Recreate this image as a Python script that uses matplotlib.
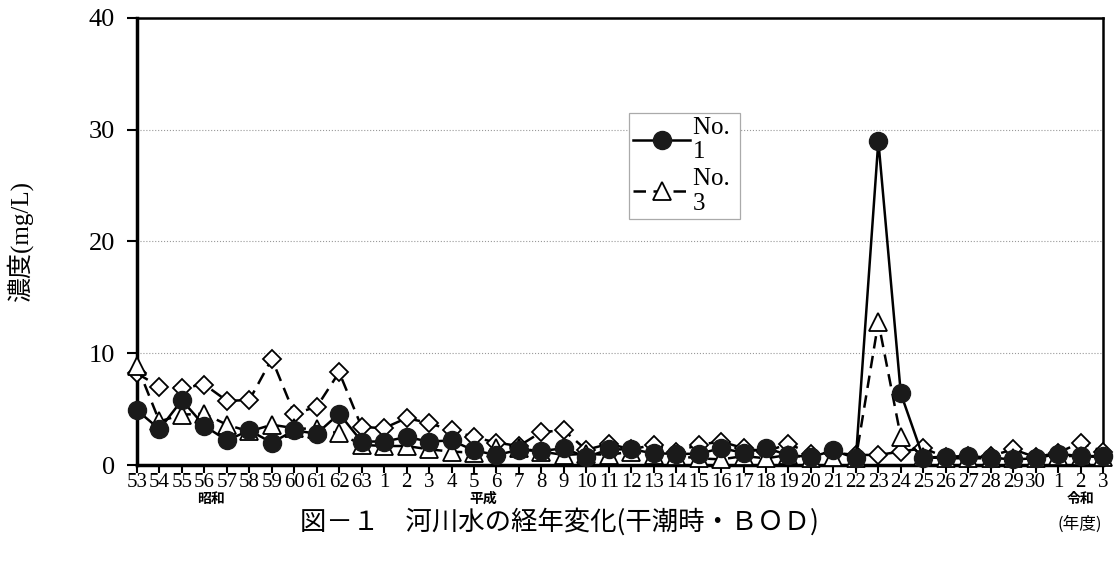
import numpy as np
import matplotlib
matplotlib.use("Agg")
import matplotlib.pyplot as plt
from matplotlib.lines import Line2D

plt.rcParams['font.family'] = ['Liberation Serif', 'Noto Sans CJK JP']

# year labels: Showa 53-63, Heisei 1-30, Reiwa 1-3
years = [str(y) for y in range(53, 64)] + [str(y) for y in range(1, 31)] + ['1', '2', '3']

# BOD at low tide (mg/L)
no1 = [4.9, 3.2, 5.8, 3.5, 2.2, 3.1, 2.0, 3.1, 2.8, 4.6, 2.1,
       2.1, 2.5, 2.1, 2.2, 1.3, 0.9, 1.35, 1.25, 1.5, 0.7,
       1.4, 1.4, 1.05, 1.0, 1.0, 1.5, 1.1, 1.5, 0.9, 0.7,
       1.3, 0.6, 29.0, 6.4, 0.65, 0.75, 0.8, 0.65, 0.5, 0.6,
       1.0, 0.8, 0.8]
no3 = [8.9, 3.9, 4.5, 4.6, 3.6, 3.0, 3.6, 3.3, 3.2, 2.85, 1.8,
       1.7, 1.7, 1.4, 1.2, 1.1, 1.5, 1.5, 1.2, 0.9, 1.0,
       0.9, 1.2, 0.9, 0.8, 0.6, 0.5, 0.8, 0.6, 0.9, 0.6,
       0.7, 0.6, 12.8, 2.5, 0.7, 0.6, 0.6, 0.6, 0.6, 0.6,
       0.8, 0.8, 0.7]
no2 = [8.2, 7.0, 6.9, 7.2, 5.75, 5.8, 9.5, 4.6, 5.2, 8.3, 3.4,
       3.3, 4.2, 3.75, 3.1, 2.5, 2.0, 1.7, 2.95, 3.1, 1.35,
       1.9, 1.4, 1.8, 1.2, 1.8, 2.1, 1.5, 1.2, 1.9, 1.0,
       1.1, 0.9, 0.9, 1.2, 1.5, 0.7, 0.8, 0.8, 1.4, 0.7,
       1.1, 2.0, 1.2]

# era name, index of the category it sits under
eras = [('昭和', 3.3), ('平成', 15.4), ('令和', 42.0)]

x = np.arange(len(years))

fig = plt.figure(figsize=(11.15, 5.62), dpi=100)
ax = fig.add_axes([137/1115, 1-465/562, (1103-137)/1115, (465-18)/562])

# diamonds behind, then triangles, circles on top
ax.plot(x, no2, color='black', lw=1.8, ls=(0, (5, 3)), marker='D', ms=9,
        mfc='white', mec='black', mew=1.3, zorder=3, clip_on=False)
ax.plot(x, no3, color='black', lw=1.8, ls=(0, (5, 3)), marker='^', ms=13,
        mfc='white', mec='black', mew=1.3, zorder=4, clip_on=False)
ax.plot(x, no1, color='black', lw=1.8, marker='o', ms=13,
        mfc='#1a1a1a', mec='#1a1a1a', zorder=5, clip_on=False)

ax.set_xlim(0, len(years)-1)
ax.set_ylim(0, 40)
ax.set_yticks([0, 10, 20, 30, 40])
ax.set_xticks(x)
ax.set_xticklabels(years, fontsize=15)
ax.tick_params(axis='y', labelsize=19, length=7, width=1.5, direction='out', pad=9)
ax.tick_params(axis='x', length=6, width=1.5, direction='out', pad=0)

ax.grid(axis='y', color='#999999', ls=':', lw=0.8)
ax.set_axisbelow(True)
for side in ['left', 'bottom']:
    ax.spines[side].set_linewidth(2.5)
for side in ['top', 'right']:
    ax.spines[side].set_linewidth(1.8)

ax.set_ylabel('濃度(mg/L)', fontsize=18, labelpad=40)

for name, pos in eras:
    ax.text(pos, -0.075, name, transform=ax.get_xaxis_transform(),
            ha='center', va='center', fontsize=10, fontweight='bold',
            family=['Noto Sans CJK JP'])

fig.text(0.502, 1-522/562, '図－１　河川水の経年変化(干潮時・ＢＯＤ)',
         ha='center', va='center', fontsize=19, family=['Noto Sans CJK JP'])
fig.text(1080/1115, 1-524/562, '(年度)', ha='center', va='center',
         fontsize=12, family=['Noto Sans CJK JP'])

handles = [Line2D([], [], color='black', lw=1.8, marker='o', ms=13,
                  mfc='#1a1a1a', mec='#1a1a1a'),
           Line2D([], [], color='black', lw=1.8, ls=(0, (5, 3)), marker='^',
                  ms=13, mfc='white', mec='black', mew=1.3)]
leg = fig.legend(handles, ['No. \n1', 'No. \n3'], loc='upper left',
                 bbox_to_anchor=(629/1115, 1-113/562), borderaxespad=0,
                 fontsize=18, handlelength=2.3, handletextpad=0.1,
                 labelspacing=0.2, borderpad=0.15, fancybox=False,
                 framealpha=1, edgecolor='#aaaaaa')
leg.get_frame().set_linewidth(0.9)
for t in leg.get_texts():
    t.set_linespacing(1.15)

fig.savefig('out.png', dpi=100)
